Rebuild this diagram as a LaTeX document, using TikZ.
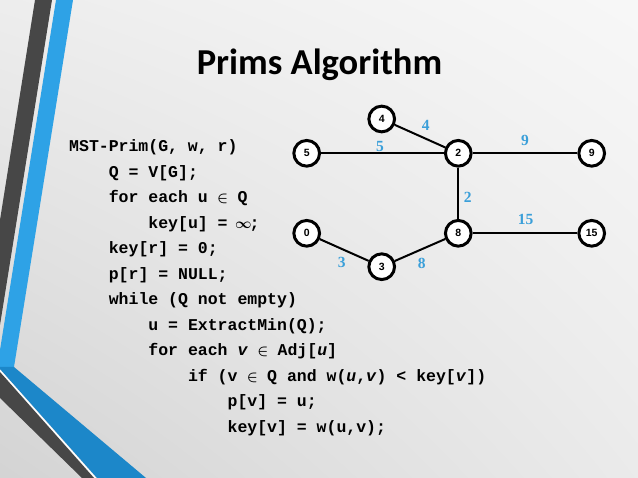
\documentclass[tikz,border=0pt]{standalone}
\usepackage{fontspec}
\setmainfont{Liberation Serif}
\setsansfont{Carlito}
\setmonofont{Liberation Mono}
\newfontfamily\vertexfont{Liberation Sans}
\usepackage{xcolor}
\usepackage{tikz}
\usetikzlibrary{shadings}

\definecolor{bandgray}{HTML}{474747}
\definecolor{bandblue}{HTML}{2EA2E6}
\definecolor{banddeep}{HTML}{1C87C9}
\definecolor{weightblue}{HTML}{3A9FD9}

\newcommand{\inset}{\makebox[9.9pt]{\fontsize{15}{15}\selectfont\boldmath$\in$}}
\newcommand{\infsym}{\makebox[12pt]{\fontsize{14}{14}\selectfont\boldmath$\infty$}}

\tikzset{
  vertex/.style={circle, draw, line width=3pt, fill=white, minimum size=25.7pt,
    inner sep=0pt, font=\fontsize{10.5}{10.5}\selectfont\vertexfont\bfseries},
  edge/.style={line width=2pt},
  weight/.style={text=weightblue, inner sep=0pt, font=\fontsize{15.5}{15.5}\selectfont\bfseries},
  codeline/.style={anchor=base west, inner sep=0pt,
    font=\fontsize{16.5}{16.5}\selectfont\ttfamily\bfseries}
}

\begin{document}
\begin{tikzpicture}[x=1pt,y=-1pt]
\useasboundingbox (0,0) rectangle (638,478);
% slide background and side bands
\shade[upper left=black!7, upper right=black!3, lower left=black!17, lower right=black!8]
  (0,0) rectangle (638,478);
\fill[bandgray] (35,0) -- (52,0) -- (0,325) -- (0,220) -- cycle;
\fill[bandblue] (56,0) -- (73,0) -- (14,367) -- (0,367) -- (0,350) -- cycle;
\fill[banddeep] (0,367) -- (14,367) -- (146,478) -- (97,478) -- (0,369) -- cycle;
\fill[bandgray] (0,372) -- (94,478) -- (82,478) -- (0,398) -- cycle;
\draw[white, line width=1.2pt] (0,370.5) -- (95.5,478);

\node[anchor=base, font=\fontsize{36.5}{36.5}\selectfont\sffamily\bfseries] (title) at (319.5,75) {Prims Algorithm};

% pseudocode
\node[codeline] (c1)  at (69,152)    {MST-Prim(G, w, r)};
\node[codeline] (c2)  at (108.6,177.5) {Q = V[G];};
\node[codeline] (c3)  at (108.6,203) {for each u \inset{} Q};
\node[codeline] (c4)  at (148.2,228.5) {key[u] = \infsym;};
\node[codeline] (c5)  at (108.6,254) {key[r] = 0;};
\node[codeline] (c6)  at (108.6,279.5) {p[r] = NULL;};
\node[codeline] (c7)  at (108.6,305) {while (Q not empty)};
\node[codeline] (c8)  at (148.2,330.5) {u = ExtractMin(Q);};
\node[codeline] (c9)  at (148.2,356) {for each \textit{v} \inset{} Adj[\textit{u}]};
\node[codeline] (c10) at (187.8,381.5) {if (v \inset{} Q and w(\textit{u},\textit{v}) < key[\textit{v}])};
\node[codeline] (c11) at (227.4,407) {p[v] = u;};
\node[codeline] (c12) at (227.4,432.5) {key[v] = w(u,v);};

% graph
\node[vertex] (v4)  at (381.7,119)   {4};
\node[vertex] (v5)  at (306.7,153.3) {5};
\node[vertex] (v2)  at (458.3,153.3) {2};
\node[vertex] (v9)  at (591.7,153.3) {9};
\node[vertex] (v0)  at (306.7,233.3) {0};
\node[vertex] (v8)  at (458.3,233.3) {8};
\node[vertex] (v15) at (591.7,233.3) {15};
\node[vertex] (v3)  at (381.7,266.7) {3};

\draw[edge] (v4) -- (v2);
\draw[edge] (v5) -- (v2);
\draw[edge] (v2) -- (v9);
\draw[edge] (v2) -- (v8);
\draw[edge] (v8) -- (v15);
\draw[edge] (v0) -- (v3);
\draw[edge] (v3) -- (v8);

\node[weight] (w42)  at (425.7,125)   {4};
\node[weight] (w52)  at (380,146.7)   {5};
\node[weight] (w29)  at (525,140.7)   {9};
\node[weight] (w28)  at (467.7,197.3) {2};
\node[weight] (w815) at (525.7,219.3) {15};
\node[weight] (w03)  at (341.7,262.7) {3};
\node[weight] (w38)  at (421.7,263.3) {8};
\end{tikzpicture}
\end{document}
